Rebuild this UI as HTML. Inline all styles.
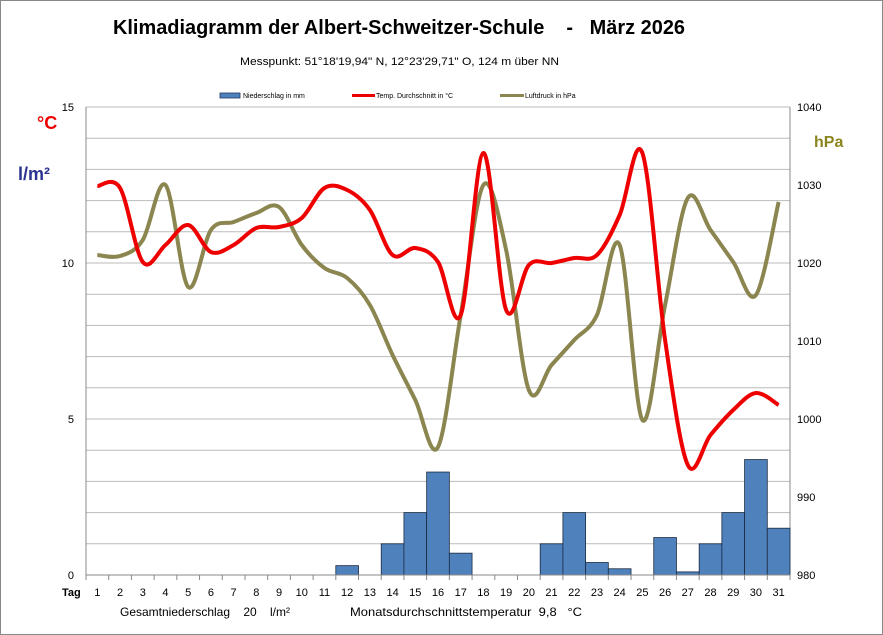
<!DOCTYPE html>
<html><head><meta charset="utf-8"><style>
html,body{margin:0;padding:0;background:#fff}
svg{display:block;font-family:"Liberation Sans",sans-serif}
</style></head><body>
<svg id="s" width="883" height="635" viewBox="0 0 883 635">
<rect x="0.5" y="0.5" width="882" height="634" fill="#fff" stroke="#888"/>
<text x="113" y="34" font-size="20" font-weight="bold" textLength="572" lengthAdjust="spacingAndGlyphs">Klimadiagramm der Albert-Schweitzer-Schule&#160;&#160;&#160;&#160;-&#160;&#160;&#160;März 2026</text>
<text x="240" y="65" font-size="11" textLength="319" lengthAdjust="spacingAndGlyphs">Messpunkt:  51°18'19,94" N,  12°23'29,71" O,  124 m über NN</text>
<rect x="220" y="93" width="20" height="5" fill="#4f81bd" stroke="#1f3860" stroke-width="0.8"/>
<text x="243" y="98" font-size="7">Niederschlag in mm</text>
<rect x="352" y="94" width="23" height="3" fill="#e00"/>
<text x="376" y="98" font-size="7">Temp. Durchschnitt in °C</text>
<rect x="500" y="94" width="24" height="3" fill="#8b8550"/>
<text x="525" y="98" font-size="7">Luftdruck in hPa</text>
<text x="37" y="129" font-size="18" font-weight="bold" fill="#e00">°C</text>
<text x="18" y="180" font-size="18" font-weight="bold" fill="#2b3390">l/m²</text>
<text x="814" y="147" font-size="16" font-weight="bold" fill="#8b8520">hPa</text>
<g id="g"></g>
<text x="62" y="596" font-size="11" font-weight="bold">Tag</text>
<text x="120" y="616" font-size="12" textLength="170" lengthAdjust="spacingAndGlyphs">Gesamtniederschlag&#160;&#160;&#160;&#160;20&#160;&#160;&#160;&#160;l/m²</text>
<text x="350" y="616" font-size="12" textLength="232" lengthAdjust="spacingAndGlyphs">Monatsdurchschnittstemperatur&#160;&#160;9,8&#160;&#160;&#160;°C</text>
</svg>
<script>
const g=document.getElementById('g');const NS='http://www.w3.org/2000/svg';
function el(t,a,txt){const e=document.createElementNS(NS,t);for(const k in a)e.setAttribute(k,a[k]);if(txt!==undefined)e.textContent=txt;g.appendChild(e);return e;}
const X0=86,X1=790,Y0=575,Y1=107,U=(Y0-Y1)/15,W=(X1-X0)/31;
for(let i=1;i<=15;i++){const y=Y0-i*U;el('line',{x1:X0,x2:X1,y1:y,y2:y,stroke:'#bbb','stroke-width':1});}
el('line',{x1:X0,x2:X0,y1:Y1,y2:Y0,stroke:'#888'});
el('line',{x1:X1,x2:X1,y1:Y1,y2:Y0,stroke:'#888'});
[[0,'0'],[5,'5'],[10,'10'],[15,'15']].forEach(([v,t])=>el('text',{x:74,y:Y0-v*U+4,'font-size':11,'text-anchor':'end'},t));
for(let i=0;i<=6;i++){el('text',{x:797,y:Y0-i*78+4,'font-size':11},String(980+i*10));}
const rain={12:.3,14:1,15:2,16:3.3,17:.7,21:1,22:2,23:.4,24:.2,26:1.2,27:.1,28:1,29:2,30:3.7,31:1.5};
for(const d in rain){const h=rain[d]*U;el('rect',{x:X0+(d-1)*W,y:Y0-h,width:W,height:h,fill:'#4f81bd',stroke:'#1a2a40','stroke-width':0.8});}
el('line',{x1:X0,x2:X1,y1:Y0,y2:Y0,stroke:'#888'});
for(let i=0;i<=31;i++){const x=X0+i*W;el('line',{x1:x,x2:x,y1:Y0,y2:Y0+5,stroke:'#888'});}
for(let d=1;d<=31;d++)el('text',{x:X0+(d-.5)*W,y:596,'font-size':11,'text-anchor':'middle'},String(d));
function path(ys,col){const p=ys.map((y,i)=>[X0+(i+.5)*W,y]);let s='M'+p[0];for(let i=0;i<p.length-1;i++){const a=p[Math.max(0,i-1)],b=p[i],c=p[i+1],d=p[Math.min(p.length-1,i+2)];const c1=[b[0]+(c[0]-a[0])/6,b[1]+(c[1]-a[1])/6],c2=[c[0]-(d[0]-b[0])/6,c[1]-(d[1]-b[1])/6];s+='C'+c1+' '+c2+' '+c;}el('path',{d:s,fill:'none',stroke:col,'stroke-width':4,'stroke-linejoin':'round'});}
path([255,256,240,185,287,230,222,213,207,245,268,278,305,355,400,447,315,185,250,390,365,340,315,245,420,305,198,230,262,295,202],'#8b8550');
path([186,188,262,245,225,252,245,228,227,218,188,190,210,255,248,262,315,153,310,265,263,258,255,215,153,340,465,435,410,393,405],'#e00');
</script>
</body></html>
